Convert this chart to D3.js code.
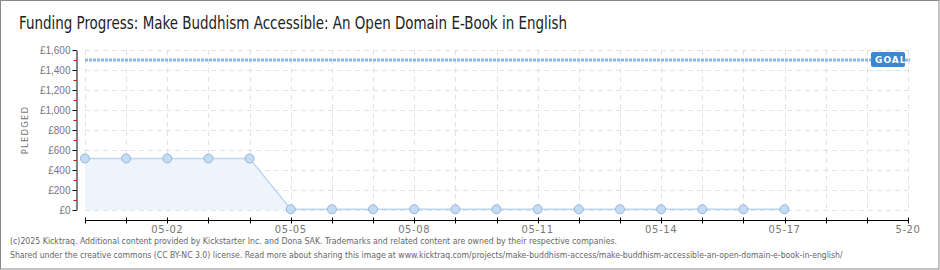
<!DOCTYPE html>
<html>
<head>
<meta charset="utf-8">
<script src="https://cdn.jsdelivr.net/npm/d3@7"></script>
<style>
  body { margin: 0; background: #fff; }
  svg { display: block; }
</style>
</head>
<body>
<div id="chart"></div>
<script>
const width = 940;
const height = 270;

// values
const dates = ["2025-04-30", "2025-05-01", "2025-05-02", "2025-05-03", "2025-05-04", "2025-05-05",
  "2025-05-06", "2025-05-07", "2025-05-08", "2025-05-09", "2025-05-10", "2025-05-11",
  "2025-05-12", "2025-05-13", "2025-05-14", "2025-05-15", "2025-05-16", "2025-05-17"];
const pledged = [515, 515, 515, 515, 515, 7, 7, 7, 7, 7, 7, 7, 7, 7, 7, 7, 7, 7];
const goal = 1500;
const yTicks = [0, 200, 400, 600, 800, 1000, 1200, 1400, 1600];
const dateRange = ["2025-04-30", "2025-05-20"];
const title = "Funding Progress: Make Buddhism Accessible: An Open Domain E-Book in English";
const footer = [
  "(c)2025 Kicktraq. Additional content provided by Kickstarter Inc. and Dona SAK. Trademarks and related content are owned by their respective companies.",
  "Shared under the creative commons (CC BY-NC 3.0) license. Read more about sharing this image at www.kicktraq.com/projects/make-buddhism-access/make-buddhism-accessible-an-open-domain-e-book-in-english/"
];

const parse = d3.utcParse("%Y-%m-%d");
const data = dates.map((d, i) => ({date: parse(d), value: pledged[i]}));

const x = d3.scaleUtc()
    .domain(dateRange.map(parse))
    .range([85, 908]);
const y = d3.scaleLinear()
    .domain([0, 1600])
    .range([210, 50]);

const svg = d3.select("#chart")
  .append("svg")
    .attr("width", width)
    .attr("height", height)
    .style("font-family", "'DejaVu Sans', sans-serif");

svg.append("rect")
    .attr("x", 0.5).attr("y", 0.5)
    .attr("width", width - 1.5).attr("height", height - 1.5)
    .attr("fill", "#fff")
    .attr("stroke", "#888");

svg.append("text")
    .attr("x", 19).attr("y", 29)
    .attr("font-family", "'Liberation Sans Narrow', 'DejaVu Sans Condensed', sans-serif")
    .attr("font-size", 17)
    .attr("fill", "#222")
    .attr("textLength", 548)
    .attr("lengthAdjust", "spacingAndGlyphs")
    .text(title);

// grid
const days = d3.utcDay.range(x.domain()[0], d3.utcDay.offset(x.domain()[1], 1));
const grid = svg.append("g")
    .attr("stroke", "#e2e2e2")
    .attr("stroke-dasharray", "5,4");
grid.selectAll(".h")
  .data(yTicks)
  .join("line")
    .attr("x1", 85).attr("x2", 908)
    .attr("y1", d => y(d) + 0.5).attr("y2", d => y(d) + 0.5);
grid.selectAll(".v")
  .data(days)
  .join("line")
    .attr("x1", d => Math.round(x(d)) + 0.5).attr("x2", d => Math.round(x(d)) + 0.5)
    .attr("y1", 50).attr("y2", 210);

// area + line
svg.append("path")
    .datum(data)
    .attr("fill", "#edf4fc")
    .attr("d", d3.area().x(d => x(d.date)).y0(y(0)).y1(d => y(d.value)));
svg.append("path")
    .datum(data)
    .attr("fill", "none")
    .attr("stroke", "#bcd6f2")
    .attr("stroke-width", 1.5)
    .attr("d", d3.line().x(d => x(d.date)).y(d => y(d.value)));

// goal line
svg.append("line")
    .attr("x1", 85).attr("x2", 910)
    .attr("y1", y(goal)).attr("y2", y(goal))
    .attr("stroke", "#8fb6e3")
    .attr("stroke-width", 3)
    .attr("stroke-dasharray", "3,1");
const goalTag = svg.append("g")
    .attr("transform", `translate(871,${y(goal) - 8})`);
goalTag.append("rect")
    .attr("width", 34).attr("height", 15).attr("rx", 2)
    .attr("fill", "#3a87d8");
goalTag.append("text")
    .attr("x", 4).attr("y", 11)
    .attr("font-size", 9)
    .attr("font-weight", "bold")
    .attr("letter-spacing", 1)
    .attr("fill", "#fff")
    .text("GOAL");

// points
svg.append("g")
  .selectAll("circle")
  .data(data)
  .join("circle")
    .attr("cx", d => x(d.date))
    .attr("cy", d => y(d.value))
    .attr("r", 4.5)
    .attr("fill", "#c3dbf5")
    .attr("stroke", "#98b6d8")
    .attr("stroke-width", 1);

// y axis
const yAxis = svg.append("g")
    .attr("transform", "translate(76.5,0)")
    .call(d3.axisLeft(y)
      .tickValues(yTicks)
      .tickSize(4)
      .tickSizeOuter(0)
      .tickFormat(d => "£" + d3.format(",")(d)));
yAxis.select(".domain").attr("stroke", "#000");
yAxis.selectAll(".tick line").attr("stroke", "#000");
yAxis.selectAll(".tick text")
    .attr("fill", "#777")
    .attr("font-size", 10)
    .attr("x", -6);
yAxis.selectAll(".minor")
  .data(d3.range(100, 1600, 200))
  .join("line")
    .attr("x1", -3).attr("x2", 0)
    .attr("y1", d => y(d) + 0.5).attr("y2", d => y(d) + 0.5)
    .attr("stroke", "#e00");

svg.append("text")
    .attr("transform", "translate(28,130) rotate(-90)")
    .attr("text-anchor", "middle")
    .attr("font-size", 8.5)
    .attr("letter-spacing", 1.2)
    .attr("fill", "#777")
    .text("PLEDGED");

// x axis
const xAxis = svg.append("g")
    .attr("transform", "translate(0,220.5)");
xAxis.append("line")
    .attr("x1", x.range()[0]).attr("x2", x.range()[1])
    .attr("stroke", "#000");
xAxis.selectAll(".t")
  .data(days)
  .join("line")
    .attr("x1", d => Math.round(x(d)) + 0.5).attr("x2", d => Math.round(x(d)) + 0.5)
    .attr("y1", -3).attr("y2", 3)
    .attr("stroke", "#000");
const fmt = d3.utcFormat("%m-%d");
xAxis.selectAll(".l")
  .data(days.filter((d, i) => i % 3 === 2))
  .join("text")
    .attr("x", d => x(d))
    .attr("y", 12)
    .attr("text-anchor", "middle")
    .attr("font-size", 10)
    .attr("letter-spacing", 0.6)
    .attr("fill", "#777")
    .text(d => +d === +x.domain()[1] ? fmt(d).slice(1) : fmt(d));

// footer
svg.append("g")
  .selectAll("text")
  .data(footer)
  .join("text")
    .attr("x", 10)
    .attr("y", (d, i) => 244 + i * 14)
    .attr("font-family", "'DejaVu Sans Condensed', 'DejaVu Sans', sans-serif")
    .attr("font-size", 8.6)
    .attr("fill", "#666")
    .attr("textLength", (d, i) => i === 0 ? 607 : null)
    .attr("lengthAdjust", "spacingAndGlyphs")
    .text(d => d);
</script>
</body>
</html>
